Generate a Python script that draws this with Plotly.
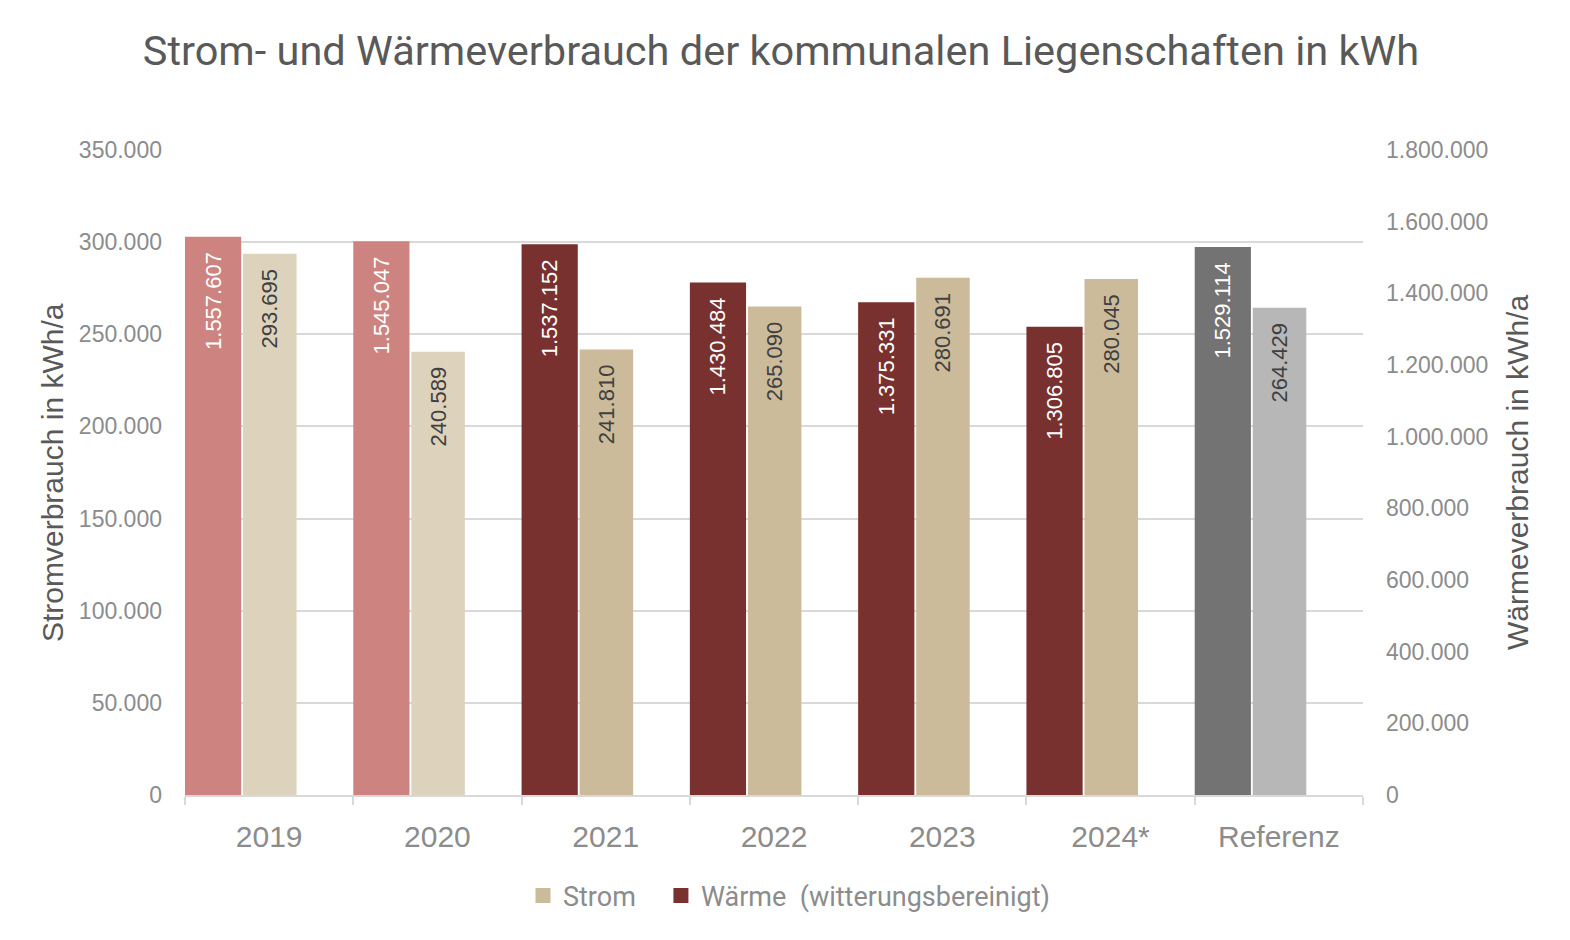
import plotly.graph_objects as go

categories = ["2019", "2020", "2021", "2022", "2023", "2024*", "Referenz"]
strom = [293695, 240589, 241810, 265090, 280691, 280045, 264429]
waerme = [1557607, 1545047, 1537152, 1430484, 1375331, 1306805, 1529114]

strom_colors = ["#DDD3BD", "#DDD3BD", "#CBBB9A", "#CBBB9A", "#CBBB9A", "#CBBB9A", "#B7B7B7"]
waerme_colors = ["#CD8480", "#CD8480", "#78312F", "#78312F", "#78312F", "#78312F", "#737373"]

left_ticks = list(range(0, 350001, 50000))
right_ticks = list(range(0, 1800001, 200000))


def de(n):
    return f"{n:,}".replace(",", ".")


PAD = "\u00a0\u00a0"
GRID = "#D9D9D9"
LBL = "#8C8C8C"
FONT = "Liberation Sans, Arial, sans-serif"
FONT2 = "Roboto, Liberation Sans, sans-serif"

# page offset (body margin) compensation
OFF = 8
L, R, T, B = 185 - OFF, 207 + OFF, 150 - OFF, 145 + OFF
PW, PH = 1178, 645

fig = go.Figure()

fig.add_trace(go.Bar(
    x=categories, y=waerme, yaxis="y2",
    marker=dict(color=waerme_colors, line=dict(width=0)),
    offset=-0.5, width=0.334,
    text=[de(v) + PAD for v in waerme], textposition="inside",
    textangle=-90, insidetextanchor="end",
    textfont=dict(color="white", size=22, family=FONT),
    showlegend=False, hoverinfo="skip",
))
fig.add_trace(go.Bar(
    x=categories, y=strom, yaxis="y",
    marker=dict(color=strom_colors, line=dict(width=0)),
    offset=-0.155, width=0.318,
    text=[de(v) + PAD for v in strom], textposition="inside",
    textangle=-90, insidetextanchor="end",
    textfont=dict(color="#404040", size=22, family=FONT),
    showlegend=False, hoverinfo="skip",
))
# legend entries
fig.add_trace(go.Scatter(x=[None], y=[None], mode="markers", name="Strom\u00a0\u00a0\u00a0",
                         marker=dict(symbol="square", size=15, color="#CBBB9A"), showlegend=True))
fig.add_trace(go.Scatter(x=[None], y=[None], mode="markers", name="Wärme&nbsp;&nbsp;(witterungsbereinigt)",
                         marker=dict(symbol="square", size=15, color="#78312F"), showlegend=True))

fig.update_layout(
    width=1570, height=940,
    margin=dict(l=L, r=R, t=T, b=B),
    paper_bgcolor="white", plot_bgcolor="white",
    barmode="overlay",
    separators=",.",
    title=dict(text="Strom- und Wärmeverbrauch der kommunalen Liegenschaften in kWh",
               x=(781 - OFF) / 1570, xref="container", xanchor="center",
               y=1 - (50 - OFF) / 940, yref="container", yanchor="middle",
               font=dict(family=FONT2, size=41.5, color="#595959")),
    xaxis=dict(
        type="category", range=[-0.5, 6.5], tickson="boundaries",
        ticks="outside", ticklen=8, tickcolor=GRID, tickwidth=1.5,
        showline=True, linecolor=GRID, linewidth=1.5,
        showgrid=False, ticklabelstandoff=14,
        tickfont=dict(family=FONT, size=30, color=LBL),
    ),
    yaxis=dict(
        range=[0, 350000], tickvals=left_ticks, ticktext=[de(v) for v in left_ticks],
        showgrid=True, gridcolor=GRID, gridwidth=1.5, zeroline=False,
        tickfont=dict(family=FONT, size=23, color=LBL),
        ticklabelstandoff=22,
    ),
    yaxis2=dict(
        range=[0, 1800000], tickvals=right_ticks, ticktext=[de(v) for v in right_ticks],
        overlaying="y", side="right", showgrid=False, zeroline=False,
        tickfont=dict(family=FONT, size=23, color=LBL),
        ticklabelstandoff=22,
    ),
    legend=dict(orientation="h", x=(789 - 185) / PW, xanchor="center",
                y=(795 - 896) / PH, yanchor="middle",
                font=dict(family=FONT2, size=27, color=LBL), traceorder="normal",
                itemwidth=30, itemsizing="trace"),
    annotations=[
        dict(text="Stromverbrauch in kWh/a", xref="paper", yref="paper",
             x=(52 - 185) / PW, y=(795 - 473) / PH, textangle=-90,
             showarrow=False, xanchor="center", yanchor="middle",
             font=dict(family=FONT, size=30, color="#595959")),
        dict(text="Wärmeverbrauch in kWh/a", xref="paper", yref="paper",
             x=(1517 - 185) / PW, y=(795 - 473) / PH, textangle=-90,
             showarrow=False, xanchor="center", yanchor="middle",
             font=dict(family=FONT, size=30, color="#595959")),
    ],
)

fig.write_html("out.html")
